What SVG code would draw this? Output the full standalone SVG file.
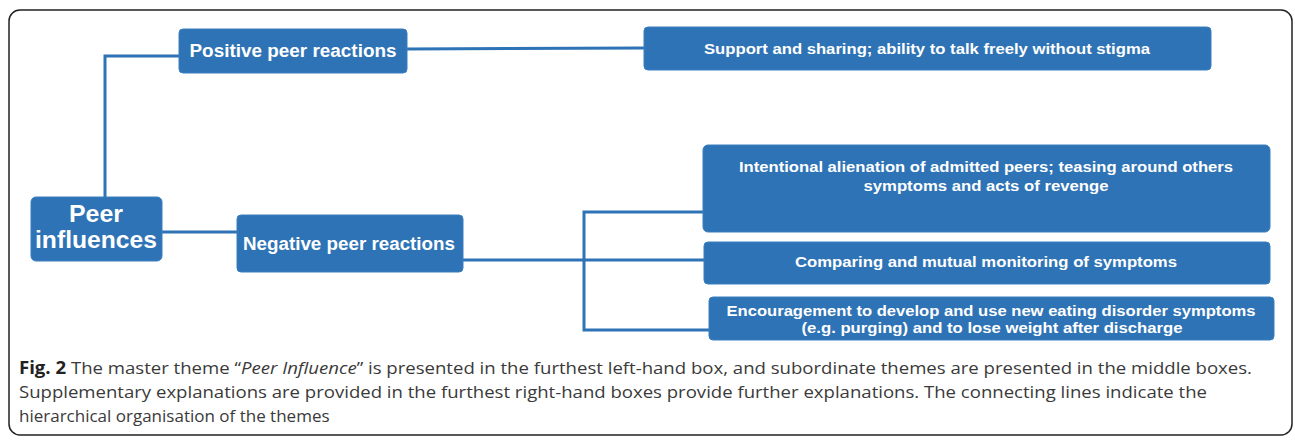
<svg xmlns="http://www.w3.org/2000/svg" width="1295" height="444" viewBox="0 0 1295 444">
  <style>
    .box { fill: #2E73B5; stroke: #3A7EC0; stroke-width: 1; }
    .lbl { font-family: "Liberation Sans", Arial, sans-serif; font-weight: bold; fill: #ffffff; text-anchor: middle; }
    .conn { stroke: #2E73B5; stroke-width: 3; fill: none; }
    .cap { font-family: "Open Sans", "Noto Sans", sans-serif; font-size: 17px; fill: #3a3a3a; }
  </style>
  <rect x="0" y="0" width="1295" height="444" fill="#ffffff"/>
  <rect id="frame" x="9" y="10" width="1283" height="425" rx="11" ry="11" fill="none" stroke="#222222" stroke-width="1.5"/>

  <g id="connectors">
    <polyline class="conn" points="179,56 105,56 105,197"/>
    <line class="conn" x1="407" y1="49" x2="644" y2="48"/>
    <line class="conn" x1="162" y1="232" x2="237" y2="232"/>
    <line class="conn" x1="463" y1="260" x2="704" y2="260"/>
    <polyline class="conn" points="703,212 584,212 584,330 709,330"/>
  </g>

  <g id="peer-influences">
    <rect class="box" x="31" y="197" width="131" height="64" rx="5"/>
    <text class="lbl" x="96" y="222" font-size="24" textLength="54" lengthAdjust="spacingAndGlyphs">Peer</text>
    <text class="lbl" x="96" y="248" font-size="24" textLength="122" lengthAdjust="spacingAndGlyphs">influences</text>
  </g>

  <g id="positive">
    <rect class="box" x="179" y="29" width="228" height="44" rx="4"/>
    <text class="lbl" x="293" y="57" font-size="18" textLength="207" lengthAdjust="spacingAndGlyphs">Positive peer reactions</text>
  </g>

  <g id="negative">
    <rect class="box" x="237" y="215" width="226" height="57" rx="4"/>
    <text class="lbl" x="349" y="250" font-size="18" textLength="212" lengthAdjust="spacingAndGlyphs">Negative peer reactions</text>
  </g>

  <g id="support">
    <rect class="box" x="644" y="27" width="567" height="43" rx="4"/>
    <text class="lbl" x="927" y="54" font-size="14" textLength="446" lengthAdjust="spacingAndGlyphs">Support and sharing; ability to talk freely without stigma</text>
  </g>

  <g id="intentional">
    <rect class="box" x="703" y="145" width="567" height="87" rx="5"/>
    <text class="lbl" x="986" y="172" font-size="14" textLength="494" lengthAdjust="spacingAndGlyphs">Intentional alienation of admitted peers; teasing around others</text>
    <text class="lbl" x="986" y="191" font-size="14" textLength="245" lengthAdjust="spacingAndGlyphs">symptoms and acts of revenge</text>
  </g>

  <g id="comparing">
    <rect class="box" x="704" y="242" width="566" height="42" rx="4"/>
    <text class="lbl" x="986" y="267" font-size="14" textLength="382" lengthAdjust="spacingAndGlyphs">Comparing and mutual monitoring of symptoms</text>
  </g>

  <g id="encouragement">
    <rect class="box" x="709" y="297" width="565" height="43" rx="4"/>
    <text class="lbl" x="991" y="316" font-size="14" textLength="529" lengthAdjust="spacingAndGlyphs">Encouragement to develop and use new eating disorder symptoms</text>
    <text class="lbl" x="992" y="333" font-size="14" textLength="381" lengthAdjust="spacingAndGlyphs">(e.g. purging) and to lose weight after discharge</text>
  </g>

  <g id="caption">
    <text class="cap" x="19" y="374" textLength="1233" lengthAdjust="spacingAndGlyphs"><tspan font-weight="bold" fill="#222">Fig. 2</tspan> The master theme “<tspan font-style="italic">Peer Influence</tspan>” is presented in the furthest left-hand box, and subordinate themes are presented in the middle boxes.</text>
    <text class="cap" x="19" y="398" textLength="1188" lengthAdjust="spacingAndGlyphs">Supplementary explanations are provided in the furthest right-hand boxes provide further explanations. The connecting lines indicate the</text>
    <text class="cap" x="19" y="422">hierarchical organisation of the themes</text>
  </g>
</svg>
